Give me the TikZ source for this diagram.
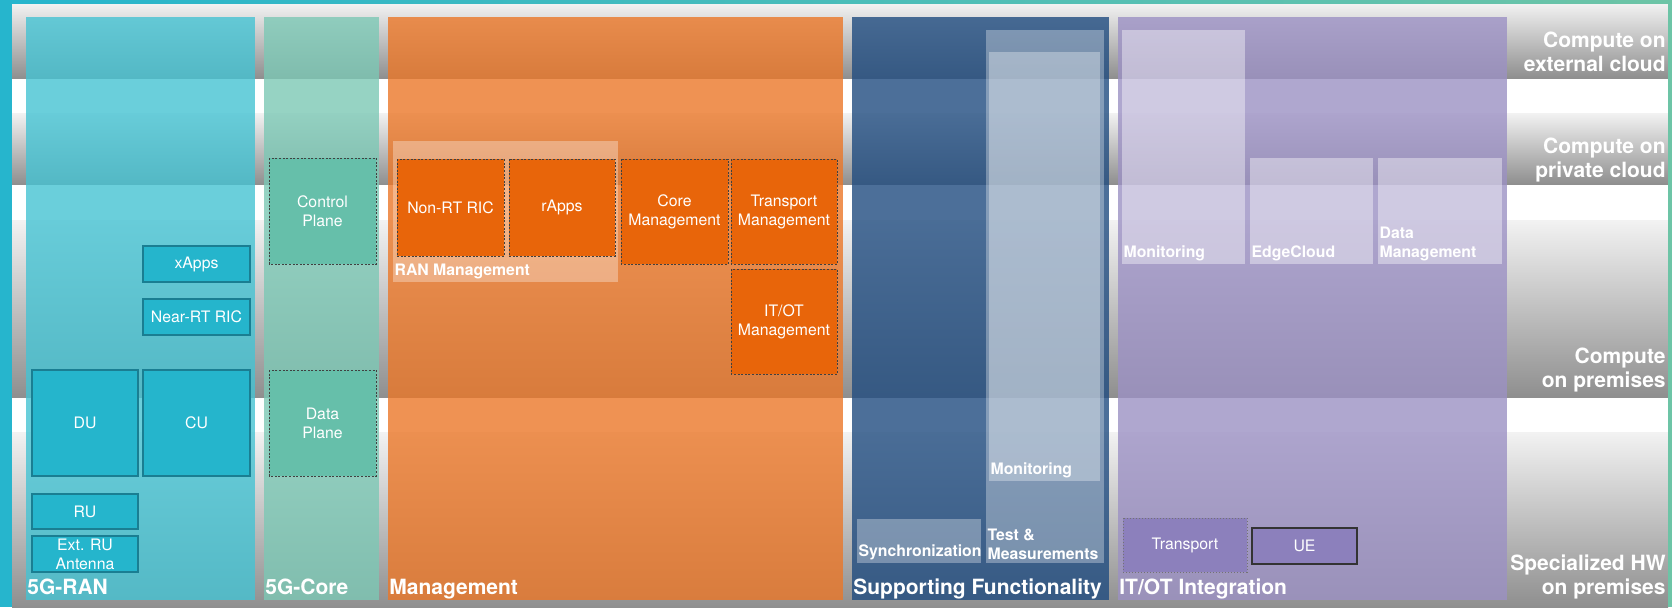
\documentclass[tikz,border=0pt]{standalone}
\usepackage{fontspec}
\setmainfont{TeX Gyre Heros}
\definecolor{framecyan}{RGB}{38,181,205}
\definecolor{frameteal}{RGB}{109,196,166}
\definecolor{ranpillar}{RGB}{69,195,211}
\definecolor{corepillar}{RGB}{124,200,181}
\definecolor{mgmtpillar}{RGB}{235,119,40}
\definecolor{supppillar}{RGB}{32,76,128}
\definecolor{itotpillar}{RGB}{156,145,196}
\definecolor{ranfill}{RGB}{37,181,204}
\definecolor{ranline}{RGB}{26,126,146}
\definecolor{corefill}{RGB}{102,191,170}
\definecolor{mgmtfill}{RGB}{232,101,10}
\definecolor{itotfill}{RGB}{140,128,188}
\tikzset{
  >=latex,
  tierband/.style={top color=black!5, bottom color=black!44},
  pillar/.style={fill=#1, fill opacity=0.8},
  ranbox/.style={fill=ranfill, draw=ranline, line width=0.6pt},
  dashbox/.style={fill=#1, draw=black!75, line width=0.5pt, dash pattern=on 1pt off 0.8pt},
  veil/.style={fill=white, fill opacity=#1},
  boxtext/.style={text=white, align=center, font=\fontsize{7.9}{9.5}\selectfont},
  tag/.style={text=white, align=left, anchor=south west,
    inner xsep=0.6pt, inner ysep=1.5pt, font=\bfseries\fontsize{7.9}{9.5}\selectfont},
  pillarname/.style={text=white, anchor=base west, inner sep=0pt,
    font=\bfseries\fontsize{10.5}{12}\selectfont},
  tiername/.style={text=white, align=right, anchor=base east, inner sep=0pt,
    font=\bfseries\fontsize{10.5}{12}\selectfont}
}
\begin{document}
\begin{tikzpicture}[x=0.5pt,y=-0.5pt]
  \useasboundingbox (0,0) rectangle (1672,607);
  % background tiers
  \fill[white] (12,3) rectangle (1668,607);
  \shade[tierband] (12,3) rectangle (1668,78);
  \shade[tierband] (12,113) rectangle (1668,184);
  \shade[tierband] (12,220) rectangle (1668,397);
  \shade[tierband] (12,432) rectangle (1668,607);
  \fill[framecyan] (0,0) rectangle (12,607);
  \shade[left color=framecyan, right color=frameteal] (0,0) rectangle (1672,3);
  \fill[frameteal] (1668,0) rectangle (1672,607);

  \node[tiername] (extcloud) at (1666,71) {Compute on\\external cloud};
  \node[tiername] (privcloud) at (1666,177) {Compute on\\private cloud};
  \node[tiername] (premises) at (1666,387) {Compute\\on premises};
  \node[tiername] (hwprem) at (1666,594) {Specialized HW\\on premises};

  % pillars
  \fill[pillar=ranpillar] (26,17) rectangle (255,600);
  \fill[pillar=corepillar] (264,17) rectangle (379,600);
  \fill[pillar=mgmtpillar] (388,17) rectangle (843,600);
  \fill[pillar=supppillar] (852,17) rectangle (1109,600);
  \fill[pillar=itotpillar] (1118,17) rectangle (1507,600);

  \node[pillarname] (ran) at (27,594) {5G-RAN};
  \node[pillarname] (core) at (265,594) {5G-Core};
  \node[pillarname] (mgmt) at (389,594) {Management};
  \node[pillarname] (supp) at (853,594) {Supporting Functionality};
  \node[pillarname] (itot) at (1119,594) {IT/OT Integration};

  % 5G-RAN
  \draw[ranbox] (143,246) rectangle (250,282) node[boxtext,midway] (xapps) {xApps};
  \draw[ranbox] (143,299) rectangle (250,335) node[boxtext,midway] (nearrt) {Near-RT RIC};
  \draw[ranbox] (32,370) rectangle (138,476) node[boxtext,midway] (du) {DU};
  \draw[ranbox] (143,370) rectangle (250,476) node[boxtext,midway] (cu) {CU};
  \draw[ranbox] (32,494) rectangle (138,529) node[boxtext,midway] (ru) {RU};
  \draw[ranbox] (32,536) rectangle (138,572) node[boxtext,midway] (extru) {Ext. RU\\Antenna};

  % 5G-Core
  \draw[dashbox=corefill] (269,158) rectangle (376,264) node[boxtext,midway] (cplane) {Control\\Plane};
  \draw[dashbox=corefill] (269,370) rectangle (376,476) node[boxtext,midway] (dplane) {Data\\Plane};

  % Management
  \fill[veil=0.32] (393,141) rectangle (618,282);
  \node[tag] (ranmgmt) at (393,282) {RAN Management};
  \draw[dashbox=mgmtfill] (397,159) rectangle (504,256) node[boxtext,midway] (nonrt) {Non-RT RIC};
  \draw[dashbox=mgmtfill] (509,159) rectangle (615,256) node[boxtext,midway] (rapps) {rApps};
  \draw[dashbox=mgmtfill] (621,159) rectangle (728,264) node[boxtext,midway] (coremgmt) {Core\\Management};
  \draw[dashbox=mgmtfill] (731,159) rectangle (837,264) node[boxtext,midway] (transmgmt) {Transport\\Management};
  \draw[dashbox=mgmtfill] (731,269) rectangle (837,374) node[boxtext,midway] (itotmgmt) {IT/OT\\Management};

  % Supporting Functionality
  \fill[veil=0.32] (986,30) rectangle (1104,563);
  \fill[veil=0.32] (989,52) rectangle (1100,481);
  \fill[veil=0.32] (857,519) rectangle (981,563);
  \node[tag] (suppmon) at (989,481) {Monitoring};
  \node[tag] (testmeas) at (986,563) {Test \&\\Measurements};
  \node[tag] (sync) at (857,563) {Synchronization};

  % IT/OT Integration
  \fill[veil=0.4] (1122,30) rectangle (1245,264);
  \fill[veil=0.4] (1250,158) rectangle (1373,264);
  \fill[veil=0.4] (1378,158) rectangle (1502,264);
  \node[tag] (itotmon) at (1122,264) {Monitoring};
  \node[tag] (edge) at (1250,264) {EdgeCloud};
  \node[tag] (datamgmt) at (1378,264) {Data\\Management};
  \draw[fill=itotfill, draw=black!55, line width=0.5pt, dash pattern=on 0.5pt off 1pt]
    (1123,518) rectangle (1247,572) node[boxtext,midway] (transport) {Transport};
  \draw[fill=itotfill, draw=black!80, line width=0.6pt]
    (1252,528) rectangle (1357,564) node[boxtext,midway] (ue) {UE};
\end{tikzpicture}
\end{document}
